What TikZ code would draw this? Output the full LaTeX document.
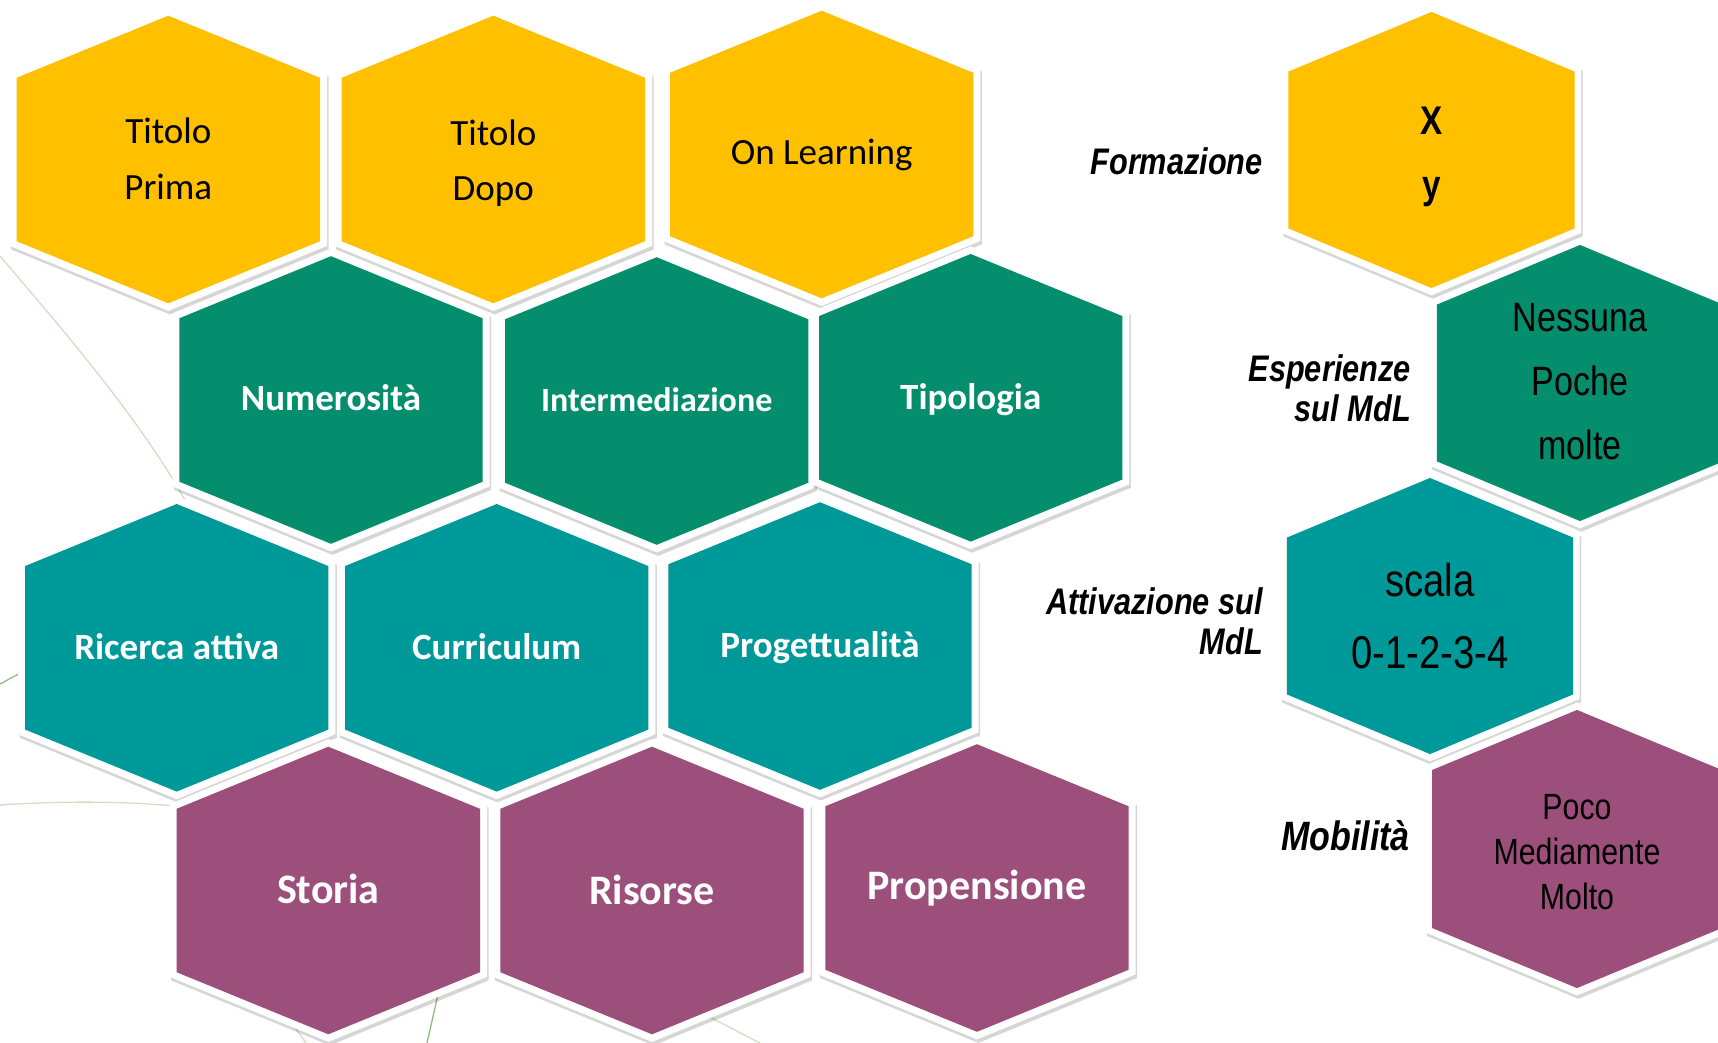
\documentclass[tikz,border=0pt]{standalone}
\usepackage{fontspec}
\setmainfont{Carlito}
\newfontfamily\narrowfont{Liberation Sans}[FakeStretch=0.83]

\definecolor{honey}{HTML}{FFC000}
\definecolor{leaf}{HTML}{058E6E}
\definecolor{lagoon}{HTML}{00999A}
\definecolor{plum}{HTML}{9C4F7B}
\definecolor{twig}{HTML}{CFE0C3}
\definecolor{stem}{HTML}{93BC80}

% one cell of the honeycomb: [scale] {x} {y} {colour}
\newcommand{\hexcell}[4][]{%
  \begin{scope}[shift={(#2,#3)},#1]
    \fill[black,opacity=.16,shift={(1.5,3.5)}] (0,-151.4) -- (158.7,-86.4) -- (158.7,86.4) -- (0,151.4) -- (-158.7,86.4) -- (-158.7,-86.4) -- cycle;
    \fill[white] (0,-151.4) -- (158.7,-86.4) -- (158.7,86.4) -- (0,151.4) -- (-158.7,86.4) -- (-158.7,-86.4) -- cycle;
    \fill[#4] (0,-143.8) -- (151.7,-81.7) -- (151.7,81.7) -- (0,143.8) -- (-151.7,81.7) -- (-151.7,-81.7) -- cycle;
  \end{scope}}

\begin{document}
\begin{tikzpicture}[x=1pt, y=-1pt,
    darktext/.style={align=center, inner sep=0pt, text=black, font=\fontsize{37}{55.5}\selectfont},
    lighttext/.style={anchor=base, inner sep=0pt, text=white, font=\bfseries\fontsize{37}{44}\selectfont},
    bigtext/.style={lighttext, font=\bfseries\fontsize{42}{50}\selectfont},
    sidetext/.style={inner sep=0pt, align=right, font=\narrowfont\bfseries\itshape\fontsize{37}{40}\selectfont},
    valuetext/.style={align=center, inner sep=0pt, text=black, font=\narrowfont\fontsize{36}{45}\selectfont}]
    \useasboundingbox (0,0) rectangle (1718,1043);
    \fill[white] (0,0) rectangle (1718,1043);
    \clip (0,0) rectangle (1718,1043);

    % faint lines in the background
    \draw[twig, line width=1.3pt] (0,256) .. controls (70,338) and (140,420) .. (185,500);
    \draw[twig, line width=1.3pt] (0,805) .. controls (60,801) and (120,801) .. (175,806);
    \draw[stem, line width=1.3pt] (0,684) -- (24,671);
    \draw[twig, line width=1.3pt] (294,1026) -- (306,1043);
    \draw[stem, line width=1.3pt] (439,990) -- (427,1043);
    \draw[twig, line width=1.3pt] (700,1012) -- (760,1043);

    % left block
    \hexcell{168.3}{159.5}{honey}
    \hexcell{493.3}{159.5}{honey}
    \hexcell{821.7}{154.5}{honey}
    \hexcell{331}{400}{leaf}
    \hexcell{656.7}{401}{leaf}
    \hexcell{970.7}{397.8}{leaf}
    \hexcell{176.7}{647.8}{lagoon}
    \hexcell{496.7}{647.8}{lagoon}
    \hexcell{820}{646}{lagoon}
    \hexcell{328.3}{890.5}{plum}
    \hexcell{652}{890.5}{plum}
    \hexcell{977}{888}{plum}

    \node[darktext] (prima) at (168.3,159) {Titolo\\Prima};
    \node[darktext] (dopo) at (493.3,163) {Titolo\\Dopo};
    \node[darktext, anchor=base] (online) at (821.7,165) {On Learning};
    \node[lighttext] (numero) at (331,410) {Numerosità};
    \node[lighttext, font=\bfseries\fontsize{34}{40}\selectfont] (interm) at (656.7,411) {Intermediazione};
    \node[lighttext] (tipo) at (970.7,409) {Tipologia};
    \node[lighttext] (ricerca) at (176.7,659) {Ricerca attiva};
    \node[lighttext] (curric) at (496.7,659) {Curriculum};
    \node[lighttext] (progetto) at (820,657) {Progettualità};
    \node[bigtext] (storia) at (328.3,903) {Storia};
    \node[bigtext] (risorse) at (652,904) {Risorse};
    \node[bigtext] (propens) at (977,899) {Propensione};

    % right column
    \hexcell[xscale=.943, yscale=.96]{1431.5}{150}{honey}
    \hexcell[xscale=.943, yscale=.96]{1580}{383}{leaf}
    \hexcell[xscale=.943, yscale=.96]{1430}{616}{lagoon}
    \hexcell[xscale=.955, yscale=.967]{1577}{849}{plum}

    \node[valuetext, font=\narrowfont\bfseries\fontsize{40}{64}\selectfont] (xy) at (1431.5,157) {X\\y};
    \node[valuetext, font=\narrowfont\fontsize{41}{64}\selectfont] (nessuna) at (1580,382) {Nessuna\\Poche\\molte};
    \node[valuetext, font=\narrowfont\fontsize{46}{72}\selectfont] (scala) at (1430,616) {scala\\0-1-2-3-4};
    \node[valuetext, font=\narrowfont\fontsize{36.5}{45}\selectfont] (poco) at (1577,852) {Poco\\Mediamente\\Molto};

    \node[sidetext, anchor=base east] (formaz) at (1263,175) {Formazione};
    \node[sidetext, anchor=east] (esper) at (1411,388) {Esperienze\\sul MdL};
    \node[sidetext, anchor=east] (attiv) at (1263,621.5) {Attivazione sul\\MdL};
    \node[sidetext, anchor=base east, font=\narrowfont\bfseries\itshape\fontsize{41}{44}\selectfont] (mobil) at (1410,850) {Mobilità};
\end{tikzpicture}
\end{document}
